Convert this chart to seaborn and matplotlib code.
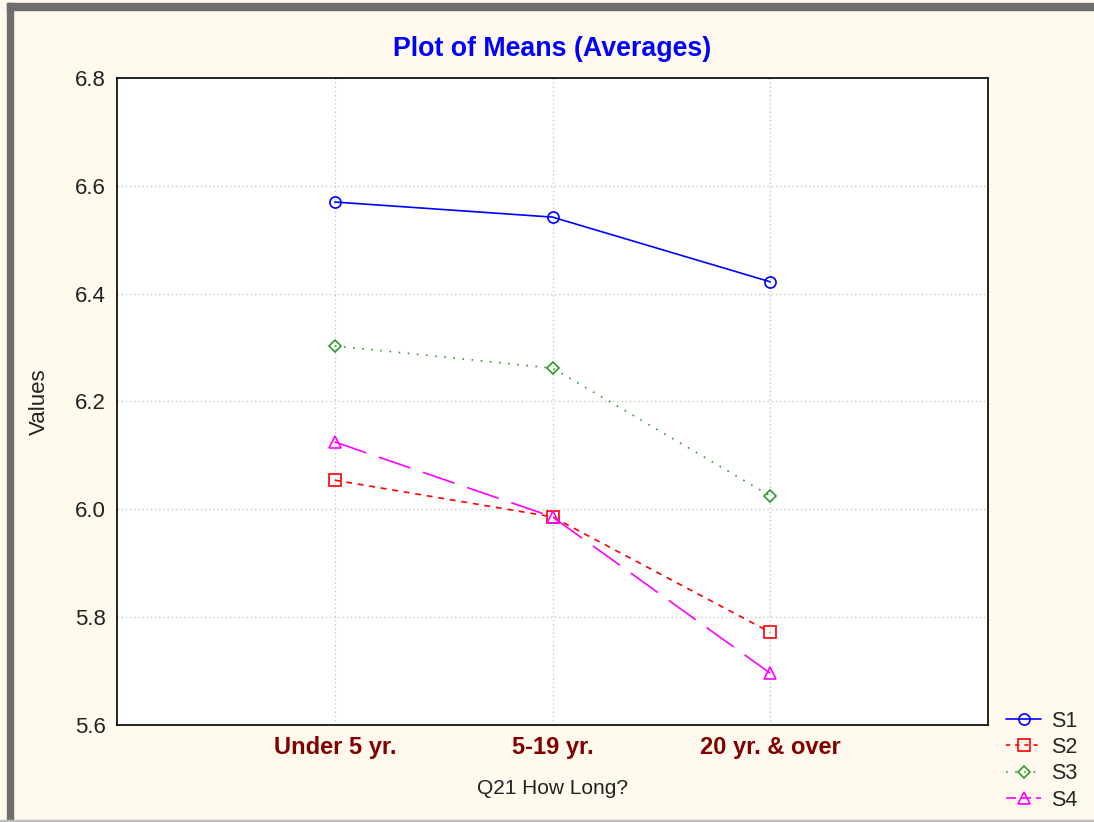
import matplotlib
matplotlib.use("Agg")
import matplotlib.pyplot as plt
import seaborn as sns
import pandas as pd
from matplotlib.patches import Rectangle
from matplotlib.lines import Line2D

categories = ["Under 5 yr.", "5-19 yr.", "20 yr. & over"]
s1 = [6.570, 6.542, 6.422]
s2 = [6.054, 5.986, 5.772]
s3 = [6.303, 6.262, 6.025]
s4 = [6.125, 5.986, 5.696]
series_names = ["S1", "S2", "S3", "S4"]
yticks = [5.6, 5.8, 6.0, 6.2, 6.4, 6.6, 6.8]

sns.set_theme(style="white")
plt.rcParams['font.family'] = ['Liberation Sans', 'DejaVu Sans']

bg = "#FFF9EE"
fig = plt.figure(figsize=(10.94, 8.22), dpi=100, facecolor=bg)
W, H = 1094, 822
ax = fig.add_axes([117 / W, 1 - 725 / H, (988 - 117) / W, (725 - 78) / H])
ax.set_facecolor("white")

# gray frame of the window
fig.patches.append(Rectangle((7 / W, 0), 6 / W, 1 - 3 / H, transform=fig.transFigure,
                             color="#6E6E6E", zorder=0))
fig.patches.append(Rectangle((7 / W, 1 - 10 / H), 1 - 7 / W, 7 / H, transform=fig.transFigure,
                             color="#6E6E6E", zorder=0))
fig.patches.append(Rectangle((0, 0), 1, 2 / H, transform=fig.transFigure,
                             color="#BDBDBD", zorder=0))

df = pd.DataFrame({
    "cat": categories * 4,
    "val": s1 + s2 + s3 + s4,
    "series": sum([[n] * 3 for n in series_names], []),
})

colors = ["#0000FF", "#FF0000", "#2E9A2E", "#FF00FF"]
markers = ["o", "s", "D", "^"]
msizes = [8, 8, 6.5, 8]
lstyles = ["-", (0, (3.5, 3.5)), (0, (1, 4.5)), (0, (20, 8))]

handles = []
for name, c, m, ms, ls in zip(series_names, colors, markers, msizes, lstyles):
    sub = df[df["series"] == name]
    sns.lineplot(data=sub, x="cat", y="val", ax=ax, color=c, marker=m,
                 markersize=ms, markerfacecolor="none", markeredgecolor=c,
                 markeredgewidth=1.2, linestyle=ls, linewidth=1.2, label=name,
                 legend=False, sort=False)
    hls = ls if name != "S4" else (0, (6, 3))
    hls = hls if name != "S2" else (0, (2.5, 3))
    handles.append(Line2D([], [], color=c, marker=m, markersize=ms, markerfacecolor="none",
                          markeredgecolor=c, markeredgewidth=1.2, linestyle=hls, linewidth=1.2))

ax.set_xlim(-1, 3)
ax.set_ylim(5.6, 6.8)
ax.set_yticks(yticks)
ax.set_yticklabels([f"{v:.1f}" for v in yticks], fontsize=16, color="#222222")
ax.set_xticks(range(len(categories)))
ax.set_xticklabels(categories, fontsize=17, fontweight="bold", color="#800000")
ax.tick_params(axis="both", length=0, pad=8)
ax.grid(True, color="#C8C8C8", linestyle=(0, (1, 2)), linewidth=1)
for sp in ax.spines.values():
    sp.set_color("black")
    sp.set_linewidth(1.2)
ax.set_xlabel("Q21 How Long?", fontsize=15, color="#222222", labelpad=14)
ax.set_ylabel("Values", fontsize=16, color="#222222", labelpad=18)
ax.set_title("Plot of Means (Averages)", fontsize=19.3, fontweight="bold", color="#0000FF", pad=16)

fig.legend(handles, series_names, loc="lower left", bbox_to_anchor=(1002 / W, 1 - 815 / H),
           frameon=False, fontsize=15.5, handlelength=1.6, handletextpad=0.5,
           labelspacing=0.25, borderpad=0.2, borderaxespad=0)

fig.savefig("out.png", dpi=100, facecolor=bg)
